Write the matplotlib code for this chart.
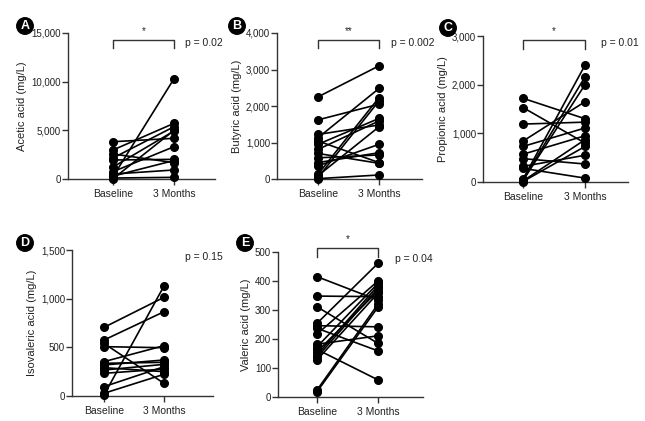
import numpy as np
import matplotlib.pyplot as plt
from matplotlib.ticker import FuncFormatter

plt.rcParams['font.family'] = ['Liberation Sans', 'DejaVu Sans']

cats = ['Baseline', '3 Months']

# values (mg/L)
acetic_base = [3830, 2980, 2570, 2160, 1950, 1230, 750, 510, 240, 100, 20, 300]
acetic_3m = [4180, 5720, 1680, 5370, 2020, 4930, 3320, 925, 10300, 170, 5000, 1900]

butyric_base = [2250, 1620, 1220, 1130, 1040, 950, 810, 700, 580, 450, 360, 130, 90, 40, 10]
butyric_3m = [3100, 2050, 1480, 2480, 450, 1660, 1590, 430, 660, 720, 950, 2230, 1430, 2140, 110]

propionic_base = [1720, 1530, 1190, 840, 730, 570, 480, 320, 280, 60, 40, 30, 20, 10]
propionic_3m = [1300, 800, 1230, 1650, 1110, 950, 370, 550, 80, 2400, 2160, 2000, 870, 730]

isovaleric_base = [705, 575, 540, 507, 353, 336, 319, 291, 267, 233, 96, 28, 10]
isovaleric_3m = [1014, 866, 130, 496, 517, 346, 370, 250, 325, 277, 301, 223, 1130]

valeric_base = [415, 348, 311, 254, 246, 237, 217, 182, 173, 164, 156, 145, 137, 128, 24, 18]
valeric_3m = [334, 346, 185, 461, 242, 159, 400, 211, 392, 59, 366, 384, 375, 358, 320, 310]

W, H = 645, 421
fig = plt.figure(figsize=(W / 100, H / 100), dpi=100)

# (letter, ylabel, base, 3m, yticks, p, stars, pixel box: left, right, top, bottom, base x, 3m x)
panels = [
    ('A', 'Acetic acid (mg/L)', acetic_base, acetic_3m, [0, 5000, 10000, 15000], 'p = 0.02', '*',
     (68, 215, 33, 179, 113, 174), (185, 43), (25, 26), (14280, 13460)),
    ('B', 'Butyric acid (mg/L)', butyric_base, butyric_3m, [0, 1000, 2000, 3000, 4000], 'p = 0.002', '**',
     (277, 422, 33, 179, 318, 379), (391, 43), (237, 26), (3808, 3589)),
    ('C', 'Propionic acid (mg/L)', propionic_base, propionic_3m, [0, 1000, 2000, 3000], 'p = 0.01', '*',
     (483, 628, 36, 182, 523, 585), (601, 43), (448, 28), (2918, 2733)),
    ('D', 'Isovaleric acid (mg/L)', isovaleric_base, isovaleric_3m, [0, 500, 1000, 1500], 'p = 0.15', None,
     (72, 213, 250, 396, 104, 164), (185, 257), (25, 243), None),
    ('E', 'Valeric acid (mg/L)', valeric_base, valeric_3m, [0, 100, 200, 300, 400, 500], 'p = 0.04', '*',
     (278, 423, 252, 397, 317, 378), (395, 259), (245, 243), (514, 483)),
]

fmt = FuncFormatter(lambda v, pos: f'{v:,.0f}')
txt = '#222222'

for letter, ylab, base, after, yt, ptxt, stars, box, ppos, lpos, br in panels:
    left, right, top, bottom, xb, x3 = box
    ax = fig.add_axes([left / W, 1 - bottom / H, (right - left) / W, (bottom - top) / H])
    step = x3 - xb
    ax.set_xlim(-(xb - left) / step, 1 + (right - x3) / step)
    ax.set_ylim(0, yt[-1])
    for b, a in zip(base, after):
        ax.plot([0, 1], [b, a], color='black', lw=1.2, marker='o', ms=5.5,
                mfc='black', mec='black', clip_on=False, zorder=3)
    ax.set_xticks([0, 1])
    ax.set_xticklabels(cats, fontsize=7.5, color=txt)
    ax.set_yticks(yt)
    ax.yaxis.set_major_formatter(fmt)
    ax.tick_params(axis='y', labelsize=7, length=4, width=1, color='#333333', labelcolor=txt, pad=1)
    ax.tick_params(axis='x', length=4, width=1, color='#333333', pad=3)
    ax.set_ylabel(ylab, fontsize=8, labelpad=3, color=txt)
    for s in ['top', 'right']:
        ax.spines[s].set_visible(False)
    for s in ['left', 'bottom']:
        ax.spines[s].set_linewidth(1)
        ax.spines[s].set_color('#333333')
    if br is not None:
        y1, y0 = br
        ax.plot([0, 0, 1, 1], [y0, y1, y1, y0], color='#333333', lw=1, clip_on=False)
        ax.text(0.5, y1 + (yt[-1] * 0.025), stars, ha='center', va='bottom', fontsize=7, color=txt)
    fig.text(ppos[0] / W, 1 - ppos[1] / H, ptxt, ha='left', va='center', fontsize=7.5, color=txt)
    fig.text(lpos[0] / W, 1 - lpos[1] / H, letter, ha='center', va='center',
             fontsize=9, fontweight='bold', color='white',
             bbox=dict(boxstyle='circle,pad=0.18', fc='black', ec='black'))

fig.savefig('out.png', dpi=100)
